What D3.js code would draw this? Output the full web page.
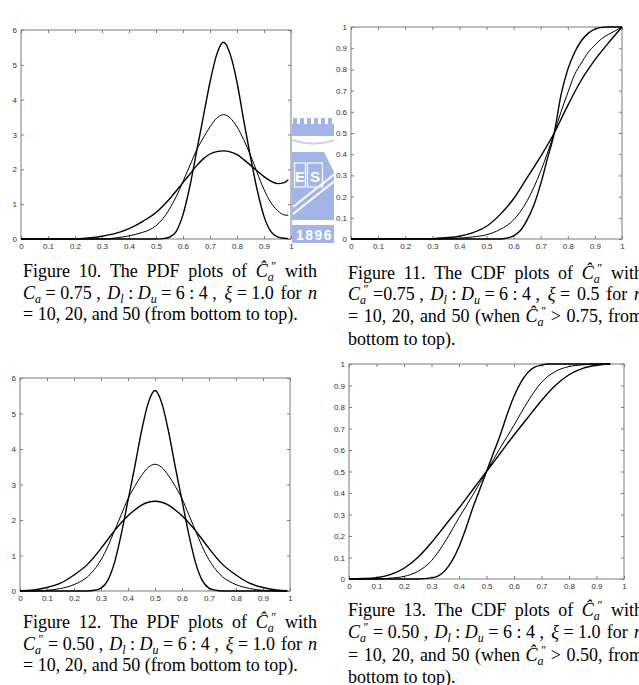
<!DOCTYPE html>
<html>
<head>
<meta charset="utf-8">
<script src="https://cdn.jsdelivr.net/npm/d3@7"></script>
<style>
  body { margin: 0; background: #fff; }
  .tick text { font-family: "Liberation Sans", Arial, sans-serif; font-size: 8px; fill: #333; }
  .tick line { stroke: #808080; }
  .cap { font-family: "Liberation Serif", "Times New Roman", serif; font-size: 18px; fill: #000; white-space: pre; }
</style>
</head>
<body>
<div id="chart"></div>
<script>
// ***Data***

var xTickValues = [0, 0.1, 0.2, 0.3, 0.4, 0.5, 0.6, 0.7, 0.8, 0.9, 1];
var xTickLabels = ["0", "0.1", "0.2", "0.3", "0.4", "0.5", "0.6", "0.7", "0.8", "0.9", "1"];
var pdfTickValues = [0, 1, 2, 3, 4, 5, 6];
var pdfTickLabels = ["0", "1", "2", "3", "4", "5", "6"];
var cdfTickValues = [0, 0.1, 0.2, 0.3, 0.4, 0.5, 0.6, 0.7, 0.8, 0.9, 1];
var cdfTickLabels = ["0", "0.1", "0.2", "0.3", "0.4", "0.5", "0.6", "0.7", "0.8", "0.9", "1"];

// Figure 10 - PDF, Ca = 0.75
var fig10N10 = [[0,0],[0.2,0],[0.25,0.03],[0.3,0.08],[0.35,0.16],[0.4,0.3],[0.45,0.5],[0.5,0.76],[0.55,1.15],[0.6,1.62],[0.625,1.86],[0.65,2.1],[0.675,2.3],[0.7,2.44],[0.725,2.51],[0.75,2.53],[0.775,2.5],[0.8,2.42],[0.825,2.28],[0.85,2.12],[0.875,1.95],[0.9,1.79],[0.925,1.66],[0.95,1.59],[0.975,1.62],[0.99,1.7]];
var fig10N20 = [[0,0],[0.3,0],[0.35,0.03],[0.4,0.09],[0.45,0.19],[0.475,0.26],[0.5,0.38],[0.525,0.58],[0.55,0.86],[0.575,1.22],[0.6,1.65],[0.625,2.1],[0.65,2.55],[0.675,2.9],[0.7,3.22],[0.725,3.47],[0.75,3.57],[0.775,3.47],[0.8,3.22],[0.825,2.85],[0.85,2.4],[0.875,1.9],[0.9,1.42],[0.925,1.05],[0.95,0.82],[0.975,0.69],[0.99,0.68]];
var fig10N50 = [[0,0],[0.5,0],[0.525,0.01],[0.55,0.05],[0.575,0.22],[0.6,0.7],[0.625,1.5],[0.65,2.5],[0.675,3.5],[0.7,4.5],[0.725,5.3],[0.75,5.65],[0.775,5.3],[0.8,4.5],[0.825,3.4],[0.85,2.35],[0.875,1.4],[0.9,0.65],[0.925,0.22],[0.95,0.06],[0.975,0.02],[0.99,0.01]];

// Figure 11 - CDF, Ca = 0.75
var fig11N10 = [[0,0],[0.3,0.002],[0.35,0.006],[0.4,0.013],[0.45,0.03],[0.5,0.06],[0.55,0.115],[0.6,0.19],[0.65,0.29],[0.7,0.39],[0.75,0.5],[0.8,0.63],[0.85,0.75],[0.9,0.845],[0.95,0.925],[1,1]];
var fig11N20 = [[0,0],[0.35,0],[0.4,0.004],[0.45,0.01],[0.5,0.02],[0.55,0.045],[0.6,0.09],[0.65,0.18],[0.7,0.32],[0.75,0.5],[0.775,0.6],[0.8,0.69],[0.825,0.775],[0.85,0.83],[0.875,0.88],[0.9,0.915],[0.925,0.945],[0.95,0.965],[0.975,0.982],[1,1]];
var fig11N50 = [[0,0],[0.55,0],[0.575,0.004],[0.6,0.015],[0.625,0.04],[0.65,0.09],[0.675,0.16],[0.7,0.26],[0.725,0.38],[0.75,0.5],[0.775,0.68],[0.8,0.8],[0.825,0.88],[0.85,0.935],[0.875,0.97],[0.9,0.99],[0.925,0.998],[0.95,1],[1,1]];

// Figure 12 - PDF, Ca = 0.50
var fig12N10 = [[0,0.01],[0.05,0.03],[0.1,0.1],[0.15,0.22],[0.2,0.45],[0.25,0.75],[0.3,1.2],[0.325,1.45],[0.35,1.7],[0.375,1.92],[0.4,2.12],[0.425,2.28],[0.45,2.42],[0.475,2.5],[0.5,2.53],[0.525,2.5],[0.55,2.42],[0.575,2.28],[0.6,2.12],[0.625,1.92],[0.65,1.7],[0.675,1.45],[0.7,1.2],[0.75,0.75],[0.8,0.45],[0.85,0.22],[0.9,0.1],[0.95,0.03],[0.99,0.01]];
var fig12N20 = [[0,0],[0.05,0],[0.1,0.02],[0.15,0.07],[0.2,0.18],[0.225,0.27],[0.25,0.4],[0.275,0.6],[0.3,0.88],[0.325,1.25],[0.35,1.7],[0.375,2.15],[0.4,2.6],[0.425,2.95],[0.45,3.25],[0.475,3.48],[0.5,3.57],[0.525,3.48],[0.55,3.25],[0.575,2.95],[0.6,2.6],[0.625,2.15],[0.65,1.7],[0.675,1.25],[0.7,0.88],[0.725,0.6],[0.75,0.4],[0.775,0.27],[0.8,0.18],[0.85,0.07],[0.9,0.02],[0.95,0],[0.99,0]];
var fig12N50 = [[0,0],[0.25,0],[0.275,0.02],[0.3,0.08],[0.325,0.3],[0.35,0.8],[0.375,1.6],[0.4,2.55],[0.425,3.5],[0.45,4.5],[0.475,5.3],[0.5,5.65],[0.525,5.3],[0.55,4.5],[0.575,3.5],[0.6,2.55],[0.625,1.6],[0.65,0.8],[0.675,0.3],[0.7,0.08],[0.725,0.02],[0.75,0],[0.99,0]];

// Figure 13 - CDF, Ca = 0.50
var fig13N10 = [[0,0],[0.05,0.002],[0.1,0.006],[0.15,0.02],[0.2,0.05],[0.25,0.1],[0.3,0.17],[0.35,0.25],[0.4,0.33],[0.45,0.415],[0.5,0.5],[0.55,0.585],[0.6,0.67],[0.65,0.75],[0.7,0.83],[0.75,0.9],[0.8,0.95],[0.85,0.98],[0.9,0.994],[0.95,1]];
var fig13N20 = [[0,0],[0.1,0],[0.15,0.004],[0.2,0.012],[0.25,0.035],[0.3,0.085],[0.35,0.175],[0.4,0.285],[0.45,0.39],[0.5,0.5],[0.55,0.61],[0.6,0.715],[0.65,0.825],[0.7,0.915],[0.75,0.965],[0.8,0.988],[0.85,0.996],[0.9,1],[0.95,1]];
var fig13N50 = [[0,0],[0.25,0],[0.3,0.005],[0.325,0.015],[0.35,0.04],[0.375,0.085],[0.4,0.15],[0.425,0.235],[0.45,0.33],[0.475,0.415],[0.5,0.5],[0.525,0.585],[0.55,0.67],[0.575,0.765],[0.6,0.85],[0.625,0.915],[0.65,0.96],[0.675,0.985],[0.7,0.995],[0.725,1],[0.95,1]];

// captions: *x* italic, _x subscript, ^x superscript, ~ fixed space
var cap10 = ["Figure 10. The PDF plots of *Ĉ*_a^″ with",
             "*C*_a~=~0.75~, *D*_l~:~*D*_u~=~6~:~4~, *ξ*~=~1.0 for *n*",
             "= 10, 20, and 50 (from bottom to top)."];
var cap11 = ["Figure 11. The CDF plots of *Ĉ*_a^″ with",
             "*C*_a^″~=0.75~, *D*_l~:~*D*_u~=~6~:~4~, *ξ*~= 0.5 for *n*",
             "= 10, 20, and 50 (when *Ĉ*_a^″~> 0.75, from",
             "bottom to top)."];
var cap12 = ["Figure 12. The PDF plots of *Ĉ*_a^″ with",
             "*C*_a^″~=~0.50~, *D*_l~:~*D*_u~=~6~:~4~, *ξ*~=~1.0 for *n*",
             "= 10, 20, and 50 (from bottom to top)."];
var cap13 = ["Figure 13. The CDF plots of *Ĉ*_a^″ with",
             "*C*_a^″~=~0.50~, *D*_l~:~*D*_u~=~6~:~4~, *ξ*~=~1.0 for *n*",
             "= 10, 20, and 50 (when *Ĉ*_a^″~> 0.50, from",
             "bottom to top)."];

//***Set up the SVG***
var svgWidth = 639;
var svgHeight = 685;

var svg = d3.select("#chart")
  .append("svg")
  .attr("width", svgWidth)
  .attr("height", svgHeight);

svg.append("rect").attr("width", svgWidth).attr("height", svgHeight).attr("fill", "#fff");

// faint school logo watermark sitting between the top panels
var logoColor = "#a3b5e8";
svg.append("clipPath").attr("id", "logoClip")
  .append("rect").attr("x", 288).attr("y", 100).attr("width", 46).attr("height", 150);
var logo = svg.append("g").attr("clip-path", "url(#logoClip)");
logo.append("rect").attr("x", 292).attr("y", 124).attr("width", 44).attr("height", 12).attr("fill", logoColor);
d3.range(6).forEach(function(i) {
  logo.append("rect").attr("x", 293 + i * 7).attr("y", 118).attr("width", 4).attr("height", 7).attr("fill", logoColor);
});
logo.append("path").attr("d", "M292,140 Q313,147 336,140").attr("fill", "none")
  .attr("stroke", "#c8d3f2").attr("stroke-width", 2);
logo.append("rect").attr("x", 292).attr("y", 152).attr("width", 44).attr("height", 68).attr("fill", logoColor);
logo.append("rect").attr("x", 294.5).attr("y", 163).attr("width", 11).attr("height", 24)
  .attr("fill", "none").attr("stroke", "#fff").attr("stroke-width", 1.2);
logo.append("rect").attr("x", 307.5).attr("y", 163).attr("width", 15).attr("height", 24)
  .attr("fill", "none").attr("stroke", "#fff").attr("stroke-width", 1.2);
logo.append("text").attr("x", 300).attr("y", 182).attr("text-anchor", "middle")
  .attr("font-family", "Liberation Sans, sans-serif").attr("font-size", 15).attr("font-weight", "bold")
  .attr("fill", "#fff").text("E");
logo.append("text").attr("x", 315).attr("y", 182).attr("text-anchor", "middle")
  .attr("font-family", "Liberation Sans, sans-serif").attr("font-size", 15).attr("font-weight", "bold")
  .attr("fill", "#fff").text("S");
logo.append("path").attr("d", "M324,152 L336,152 L336,176 Z").attr("fill", "#fff");
logo.append("path").attr("d", "M293,214 L336,180 M293,207 L336,173").attr("stroke", "#fff").attr("stroke-width", 2);
logo.append("rect").attr("x", 292).attr("y", 225).attr("width", 44).attr("height", 18).attr("fill", logoColor);
logo.append("text").attr("x", 296).attr("y", 240)
  .attr("font-family", "Liberation Sans, sans-serif").attr("font-size", 14).attr("font-weight", "bold")
  .attr("letter-spacing", 1.5).attr("fill", "#fff").text("1896");

//***Panels***
var panels = [
  { left: 21, right: 291, top: 30, bottom: 239, ymax: 6, yTicks: pdfTickValues, yLabels: pdfTickLabels,
    series: [fig10N10, fig10N20, fig10N50] },
  { left: 351, right: 622, top: 27, bottom: 239, ymax: 1, yTicks: cdfTickValues, yLabels: cdfTickLabels,
    series: [fig11N10, fig11N20, fig11N50] },
  { left: 20, right: 290, top: 378, bottom: 591, ymax: 6, yTicks: pdfTickValues, yLabels: pdfTickLabels,
    series: [fig12N10, fig12N20, fig12N50] },
  { left: 349, right: 624, top: 364, bottom: 579, ymax: 1, yTicks: cdfTickValues, yLabels: cdfTickLabels,
    series: [fig13N10, fig13N20, fig13N50] }
];

var lineWidths = [1.4, 1.0, 1.4];

panels.forEach(function(p) {
  var xScale = d3.scaleLinear().domain([0, 1]).range([p.left, p.right]);
  var yScale = d3.scaleLinear().domain([0, p.ymax]).range([p.bottom, p.top]);

  svg.append("rect")
    .attr("x", p.left).attr("y", p.top)
    .attr("width", p.right - p.left).attr("height", p.bottom - p.top)
    .attr("fill", "#fff");

  // ticks point inward on all four sides, like the MATLAB box
  var bottomAxis = d3.axisBottom(xScale).tickValues(xTickValues)
    .tickFormat(function(d, i) { return xTickLabels[i]; })
    .tickSizeInner(-3).tickSizeOuter(0).tickPadding(4);
  var topAxis = d3.axisTop(xScale).tickValues(xTickValues).tickFormat("")
    .tickSizeInner(-3).tickSizeOuter(0);
  var leftAxis = d3.axisLeft(yScale).tickValues(p.yTicks)
    .tickFormat(function(d, i) { return p.yLabels[i]; })
    .tickSizeInner(-3).tickSizeOuter(0).tickPadding(4);
  var rightAxis = d3.axisRight(yScale).tickValues(p.yTicks).tickFormat("")
    .tickSizeInner(-3).tickSizeOuter(0);

  svg.append("g").attr("transform", `translate(0, ${p.bottom})`).call(bottomAxis);
  svg.append("g").attr("transform", `translate(0, ${p.top})`).call(topAxis);
  svg.append("g").attr("transform", `translate(${p.left}, 0)`).call(leftAxis);
  svg.append("g").attr("transform", `translate(${p.right}, 0)`).call(rightAxis);
  svg.selectAll(".domain").remove();

  svg.append("rect")
    .attr("x", p.left).attr("y", p.top)
    .attr("width", p.right - p.left).attr("height", p.bottom - p.top)
    .attr("fill", "none").attr("stroke", "#7a7a7a").attr("stroke-width", 1);

  var line = d3.line()
    .x(function(d) { return xScale(d[0]); })
    .y(function(d) { return yScale(d[1]); })
    .curve(d3.curveMonotoneX);

  p.series.forEach(function(s, i) {
    svg.append("path")
      .datum(s)
      .attr("d", line)
      .attr("fill", "none")
      .attr("stroke", "#000")
      .attr("stroke-width", lineWidths[i])
      .attr("stroke-linejoin", "round");
  });
});

//***Captions (justified like the thesis text)***
function parseWord(w) {
  var segs = [];
  var re = /\*([^*]+)\*|_(.)|\^(.)|([^*_^]+)/g;
  var m;
  while ((m = re.exec(w))) {
    if (m[1]) segs.push({ t: m[1], k: "i" });
    else if (m[2]) segs.push({ t: m[2], k: "sub" });
    else if (m[3]) segs.push({ t: m[3], k: "sup" });
    else segs.push({ t: m[4].replace(/~/g, " "), k: "n" });
  }
  return segs;
}

function drawWord(g, segs, y) {
  var t = g.append("text").attr("class", "cap").attr("x", 0).attr("y", y);
  var shift = 0, prev = null, prevW = 0;
  segs.forEach(function(s) {
    var off = s.k === "sub" ? 4 : s.k === "sup" ? -7 : 0;
    var ts = t.append("tspan").attr("dy", off - shift).text(s.t);
    if (s.k === "i" || s.k === "sub") ts.attr("font-style", "italic");
    if (s.k === "sub" || s.k === "sup") ts.attr("font-size", 12);
    // double prime sits over the right half of the subscript
    if (s.k === "sup" && prev === "sub") ts.attr("dx", -prevW * 0.4);
    prevW = ts.node().getComputedTextLength();
    prev = s.k;
    shift = off;
  });
  return t;
}

function drawCaption(lines, left, right, baselines) {
  var g = svg.append("g");
  lines.forEach(function(str, li) {
    var words = str.split(" ").map(parseWord);
    var els = words.map(function(w) { return drawWord(g, w, baselines[li]); });
    var widths = els.map(function(e) { return e.node().getBBox().width; });
    var total = d3.sum(widths);
    var last = li === lines.length - 1;
    var gap = last || words.length < 2 ? 4.5 : (right - left - total) / (words.length - 1);
    var x = left;
    els.forEach(function(e, i) {
      e.attr("x", x);
      x += widths[i] + gap;
    });
  });
}

drawCaption(cap10, 23, 317, [277, 298.5, 320]);
drawCaption(cap11, 348, 643, [278.5, 300, 322, 344.5]);
drawCaption(cap12, 23, 317, [627.5, 649.5, 671]);
drawCaption(cap13, 348, 643, [616, 638, 660.5, 683]);
</script>
</body>
</html>
